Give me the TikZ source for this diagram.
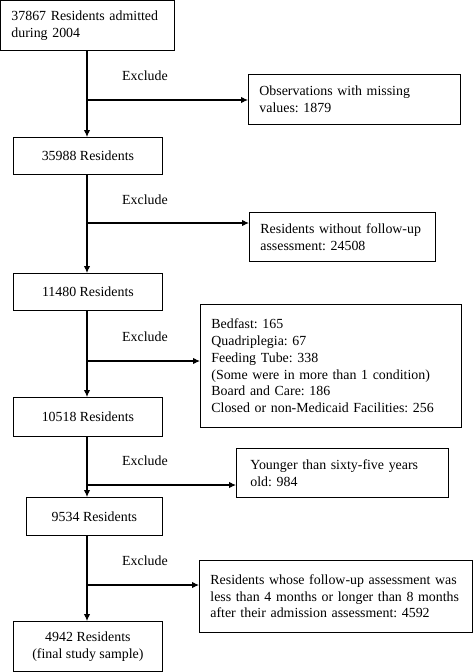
\documentclass[tikz,border=0pt]{standalone}
\usepackage{fontspec}
\setmainfont{Liberation Serif}
\usetikzlibrary{arrows.meta}
\frenchspacing

\tikzset{
    box/.style={draw, line width=0.8pt, anchor=north west, inner sep=0pt, align=center},
    rbox/.style={box, align=left, inner xsep=11pt},
    lbl/.style={inner sep=0pt},
    arr/.style={line width=1.1pt, -{Latex[length=7pt,width=6.5pt]}},
}

\begin{document}
\begin{tikzpicture}[x=1pt, y=-1pt, font=\fontsize{13.9}{16.7}\selectfont]
    \useasboundingbox (0,0) rectangle (474,672);

    % main column
    \node[rbox, minimum width=174pt, minimum height=50pt, text width=152pt] (n0) at (0,0) {37867 Residents admitted\\during 2004};
    \node[box, minimum width=149pt, minimum height=37pt] (n1) at (13,137) {35988 Residents};
    \node[box, minimum width=149pt, minimum height=37pt] (n2) at (13,273) {11480 Residents};
    \node[box, minimum width=149pt, minimum height=39pt] (n3) at (13,397) {10518 Residents};
    \node[box, minimum width=136pt, minimum height=38pt] (n4) at (26,497) {9534 Residents};
    \node[box, minimum width=149pt, minimum height=50pt] (n5) at (13,621) {4942 Residents\\(final study sample)};

    % excluded
    \node[rbox, minimum width=212pt, minimum height=50pt, text width=190pt] (x1) at (248,74) {Observations with missing\\values: 1879};
    \node[rbox, minimum width=186pt, minimum height=49pt, text width=164pt] (x2) at (249,212) {Residents without follow-up\\assessment: 24508};
    \node[rbox, minimum width=261pt, minimum height=123pt, text width=239pt] (x3) at (200,304) {Bedfast: 165\\Quadriplegia: 67\\Feeding Tube: 338\\(Some were in more than 1 condition)\\Board and Care: 186\\Closed or non-Medicaid Facilities: 256\\[-6pt]};
    \node[rbox, minimum width=212pt, minimum height=49pt, inner xsep=14pt, text width=184pt] (x4) at (236,448) {Younger than sixty-five years\\old: 984};
    \node[rbox, minimum width=273pt, minimum height=72pt, text width=251pt] (x5) at (199,560) {Residents whose follow-up assessment was\\less than 4 months or longer than 8 months\\after their admission assessment: 4592\\[-8pt]};

    % labels
    \node[lbl] (e1) at (145,76) {Exclude};
    \node[lbl] (e2) at (145,200) {Exclude};
    \node[lbl] (e3) at (145,337) {Exclude};
    \node[lbl] (e4) at (145,461) {Exclude};
    \node[lbl] (e5) at (145,561) {Exclude};

    % branch points
    \coordinate (j1) at (87,100);
    \coordinate (j2) at (87,223);
    \coordinate (j3) at (87,361);
    \coordinate (j4) at (87,485);
    \coordinate (j5) at (87,585);

    \draw[arr] (j1 |- n0.south) -- (j1 |- n1.north);
    \draw[arr] (j2 |- n1.south) -- (j2 |- n2.north);
    \draw[arr] (j3 |- n2.south) -- (j3 |- n3.north);
    \draw[arr] (j4 |- n3.south) -- (j4 |- n4.north);
    \draw[arr] (j5 |- n4.south) -- (j5 |- n5.north);

    \draw[arr] (j1) -- (j1 -| x1.west);
    \draw[arr] (j2) -- (j2 -| x2.west);
    \draw[arr] (j3) -- (j3 -| x3.west);
    \draw[arr] (j4) -- (j4 -| x4.west);
    \draw[arr] (j5) -- (j5 -| x5.west);
\end{tikzpicture}
\end{document}
